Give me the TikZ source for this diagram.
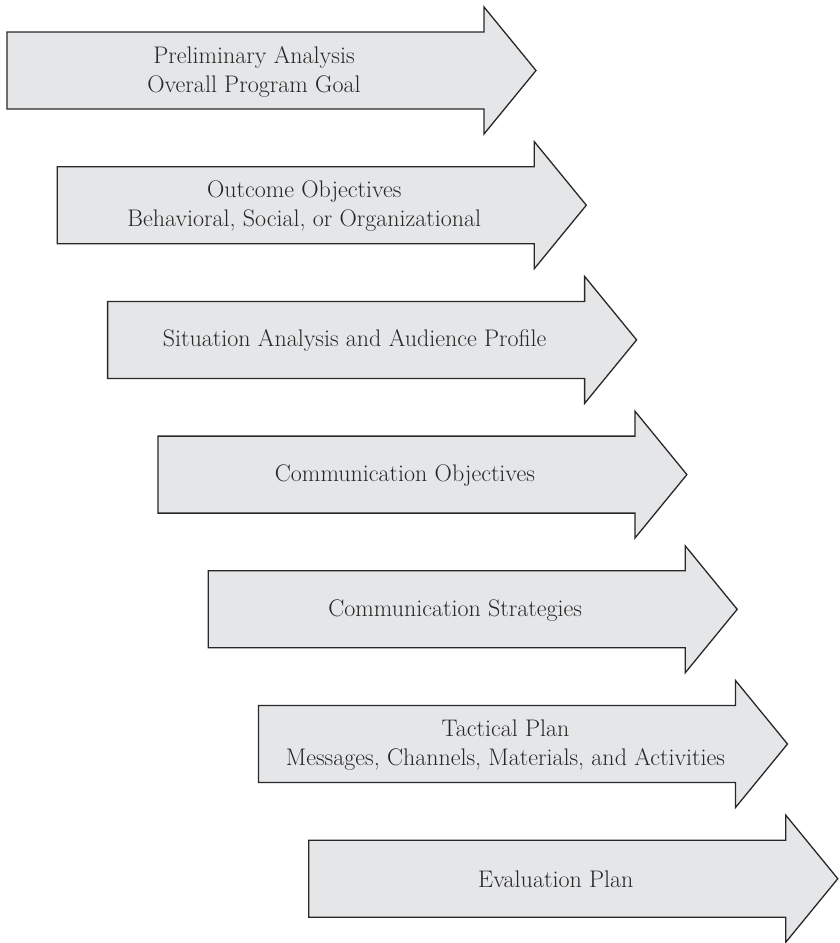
\documentclass[tikz,border=0pt]{standalone}
\usepackage{tikz}
\definecolor{arrowfill}{RGB}{229,230,232}
\definecolor{arrowline}{RGB}{40,40,40}

\begin{document}
\begin{tikzpicture}[x=1pt, y=-1pt,
    stagearrow/.style={draw=arrowline, fill=arrowfill, line width=1.3pt, line join=miter},
    stagetext/.style={align=center, text=black!85, font=\fontsize{24}{29}\selectfont}
]
\useasboundingbox (0,0) rectangle (840,943);

% one arrow per planning step, each shifted right and down
\foreach \stagelabel [count=\i from 0] in {
    {Preliminary Analysis\\Overall Program Goal},
    {Outcome Objectives\\Behavioral, Social, or Organizational},
    {Situation Analysis and Audience Profile},
    {Communication Objectives},
    {Communication Strategies},
    {Tactical Plan\\Messages, Channels, Materials, and Activities},
    {Evaluation Plan}}{
  \pgfmathsetmacro{\lx}{7+50.3*\i}
  \pgfmathsetmacro{\ty}{32+134.7*\i}
  \draw[stagearrow] (\lx,\ty) -- ++(477,0) -- ++(0,-25) -- ++(52,63.5)
      -- ++(-52,63.5) -- ++(0,-25) -- ++(-477,0) -- cycle;
  \node[stagetext] (stage\i) at (\lx+247,\ty+39.5) {\stagelabel};
}

\end{tikzpicture}
\end{document}
